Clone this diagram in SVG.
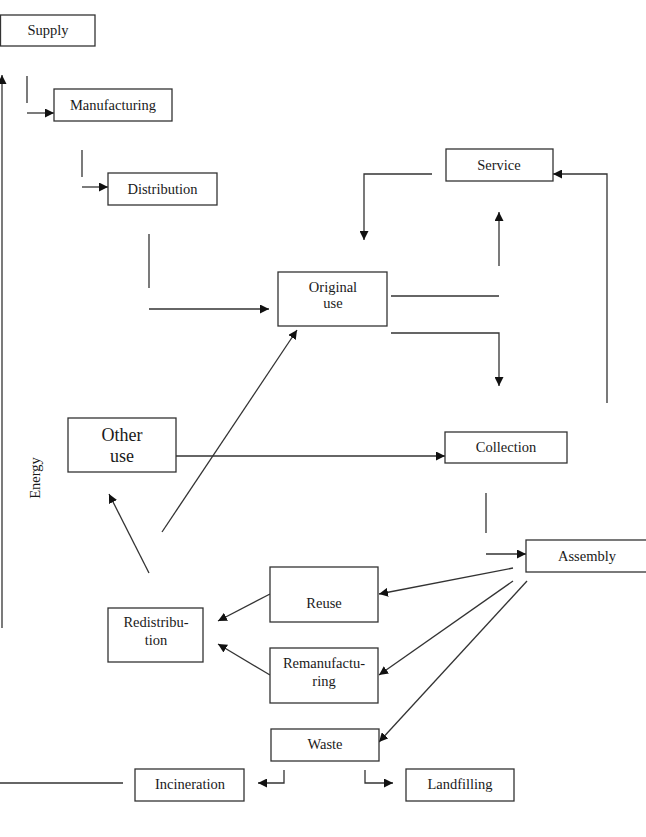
<svg xmlns="http://www.w3.org/2000/svg" width="646" height="837" viewBox="0 0 646 837">
<style>
.box{fill:#fff;stroke:#333;stroke-width:1.3}
.t{font-family:"Liberation Serif","Times New Roman",serif;font-size:14.5px;fill:#1a1a1a;text-anchor:middle}
.big{font-size:18px}
.c{fill:none;stroke:#333;stroke-width:1.3}
</style>
<defs>
<marker id="ah" viewBox="0 0 10 10" refX="10" refY="5" markerWidth="9" markerHeight="9" markerUnits="userSpaceOnUse" orient="auto">
<path d="M0,0 L10,5 L0,10 z" fill="#111"/>
</marker>
</defs>
<rect width="646" height="837" fill="#fff"/>
<g id="connectors">
<line class="c" x1="2" y1="628" x2="2" y2="75" marker-end="url(#ah)"/>
<line class="c" x1="27" y1="76" x2="27" y2="103"/>
<line class="c" x1="27" y1="113" x2="54" y2="113" marker-end="url(#ah)"/>
<line class="c" x1="82" y1="150" x2="82" y2="177"/>
<line class="c" x1="82" y1="187" x2="108" y2="187" marker-end="url(#ah)"/>
<line class="c" x1="149" y1="234" x2="149" y2="288"/>
<line class="c" x1="149" y1="309" x2="269" y2="309" marker-end="url(#ah)"/>
<polyline class="c" points="432,174 364,174 364,240" marker-end="url(#ah)"/>
<line class="c" x1="499" y1="266" x2="499" y2="212" marker-end="url(#ah)"/>
<line class="c" x1="391" y1="296" x2="499" y2="296"/>
<polyline class="c" points="391,333 499,333 499,386" marker-end="url(#ah)"/>
<polyline class="c" points="607,403 607,174 553,174" marker-end="url(#ah)"/>
<line class="c" x1="176" y1="456" x2="445" y2="456" marker-end="url(#ah)"/>
<line class="c" x1="162" y1="532" x2="297" y2="330" marker-end="url(#ah)"/>
<line class="c" x1="149" y1="573" x2="109" y2="494" marker-end="url(#ah)"/>
<line class="c" x1="486" y1="493" x2="486" y2="533"/>
<line class="c" x1="486" y1="554" x2="526" y2="554" marker-end="url(#ah)"/>
<line class="c" x1="513" y1="568" x2="379" y2="594" marker-end="url(#ah)"/>
<line class="c" x1="513" y1="581" x2="379" y2="675" marker-end="url(#ah)"/>
<line class="c" x1="527" y1="581" x2="379" y2="742" marker-end="url(#ah)"/>
<line class="c" x1="270" y1="594" x2="218" y2="621" marker-end="url(#ah)"/>
<line class="c" x1="270" y1="675" x2="218" y2="644" marker-end="url(#ah)"/>
<polyline class="c" points="284,770 284,783 258,783" marker-end="url(#ah)"/>
<polyline class="c" points="365,770 365,783 393,783" marker-end="url(#ah)"/>
<line class="c" x1="0" y1="783" x2="123" y2="783"/>
</g>
<g id="supply"><rect class="box" x="0.5" y="15" width="94.5" height="31"/><text class="t" x="48" y="35">Supply</text></g>
<g id="manufacturing"><rect class="box" x="54" y="89" width="118" height="32"/><text class="t" x="113" y="110">Manufacturing</text></g>
<g id="distribution"><rect class="box" x="108" y="173" width="109" height="32"/><text class="t" x="162.5" y="194">Distribution</text></g>
<g id="original-use"><rect class="box" x="278" y="272" width="109" height="54"/><text class="t" x="333" y="292">Original</text><text class="t" x="333" y="308">use</text></g>
<g id="service"><rect class="box" x="446" y="149" width="107" height="32"/><text class="t" x="499" y="170">Service</text></g>
<g id="other-use"><rect class="box" x="68" y="418" width="108" height="54"/><text class="t big" x="122" y="441">Other</text><text class="t big" x="122" y="462">use</text></g>
<g id="collection"><rect class="box" x="445" y="432" width="122" height="31"/><text class="t" x="506" y="452">Collection</text></g>
<g id="assembly"><rect class="box" x="526" y="540" width="125" height="32"/><text class="t" x="587" y="561">Assembly</text></g>
<g id="reuse"><rect class="box" x="270" y="567" width="108" height="55"/><text class="t" x="324" y="608">Reuse</text></g>
<g id="remanufacturing"><rect class="box" x="270" y="648" width="108" height="55"/><text class="t" x="324" y="668">Remanufactu-</text><text class="t" x="324" y="686">ring</text></g>
<g id="redistribution"><rect class="box" x="108" y="608" width="95" height="54"/><text class="t" x="156" y="627">Redistribu-</text><text class="t" x="156" y="645">tion</text></g>
<g id="waste"><rect class="box" x="271" y="729" width="108" height="32"/><text class="t" x="325" y="749">Waste</text></g>
<g id="incineration"><rect class="box" x="135" y="769" width="109" height="32"/><text class="t" x="190" y="789">Incineration</text></g>
<g id="landfilling"><rect class="box" x="406" y="769" width="108" height="32"/><text class="t" x="460" y="789">Landfilling</text></g>
<g id="energy"><text class="t" x="0" y="0" transform="translate(40,478) rotate(-90)">Energy</text></g>
</svg>
